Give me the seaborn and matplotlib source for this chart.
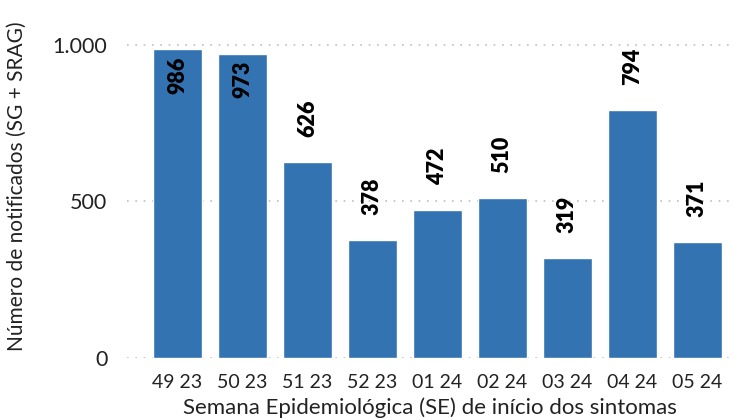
import matplotlib
matplotlib.use('Agg')
import matplotlib.pyplot as plt
import matplotlib.ticker as mticker
import seaborn as sns
import pandas as pd

# data
semanas = ['49 23', '50 23', '51 23', '52 23', '01 24', '02 24', '03 24', '04 24', '05 24']
notificados = [986, 973, 626, 378, 472, 510, 319, 794, 371]

df = pd.DataFrame({'semana': semanas, 'n': notificados})

sns.set_theme(style='white')
plt.rcParams['font.family'] = ['Lato', 'DejaVu Sans']

fig = plt.figure(figsize=(7.33, 4.19), dpi=100)
ax = fig.add_axes([0.173, 0.146, 0.827, 0.821])

sns.barplot(data=df, x='semana', y='n', color='#3373b1', saturation=1,
            width=0.75, ax=ax)

ax.set_ylim(0, 1100)
ax.set_xlim(-0.78, 8.55)
ax.set_yticks([0, 500, 1000])
ax.yaxis.set_major_formatter(mticker.FuncFormatter(
    lambda v, p: f'{int(v):,}'.replace(',', '.')))
ax.grid(axis='y', color='#bfbfbf', linestyle=(0, (1, 4)), linewidth=1.2)
ax.set_axisbelow(True)
sns.despine(ax=ax, left=True, bottom=True)
ax.tick_params(axis='x', length=0, labelsize=14, colors='#222222', pad=12)
ax.tick_params(axis='y', length=0, labelsize=15.5, colors='#222222', pad=14)

ax.set_xlabel('Semana Epidemiológica (SE) de início dos sintomas',
              fontsize=16, color='#222222', labelpad=4)
ax.set_ylabel('Número de notificados (SG + SRAG)',
              fontsize=15, color='#222222')
ax.yaxis.set_label_coords(-0.165, 0.5)

# value labels: inside near the top for the tallest bars, above otherwise
for i, v in enumerate(notificados):
    if v > 900:
        ax.annotate(str(v), (i, v), xytext=(0, -5), textcoords='offset points',
                    rotation=90, ha='center', va='top', fontsize=15.5,
                    fontweight='heavy', color='black')
    else:
        ax.annotate(str(v), (i, v), xytext=(0, 18), textcoords='offset points',
                    rotation=90, ha='center', va='bottom', fontsize=15.5,
                    fontweight='heavy', color='black')

fig.savefig('out.png', dpi=100)
